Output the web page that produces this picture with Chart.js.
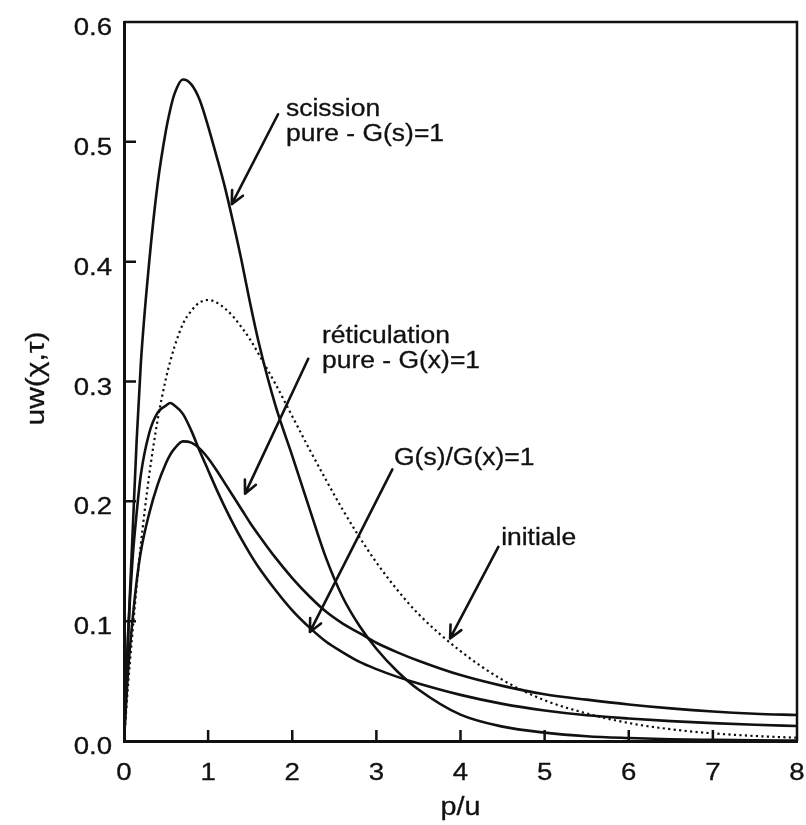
<!DOCTYPE html>
<html>
<head>
<meta charset="utf-8">
<script src="https://cdn.jsdelivr.net/npm/chart.js@4/dist/chart.umd.min.js"></script>
<style>
  html, body { margin: 0; padding: 0; background: #fff; }
  canvas { display: block; }
</style>
</head>
<body>
<canvas id="c" width="806" height="825"></canvas>
<script>
// Reduced chain length p/u at which every curve is sampled
const pOverU = [0, 0.05, 0.1, 0.15, 0.2, 0.3, 0.4, 0.5, 0.55, 0.6, 0.7, 0.8, 0.9, 1.0, 1.1, 1.2, 1.3, 1.4, 1.5, 1.6,
                1.8, 2.0, 2.2, 2.4, 2.6, 2.8, 3.0, 3.25, 3.5, 4.0, 4.5, 5.0, 5.5, 6.0, 6.5, 7.0, 7.5, 8.0];

// Weight distributions uw(chi, tau)
const scissionPure = [0, 0.09, 0.17, 0.25, 0.315, 0.40, 0.465, 0.51, 0.527, 0.54, 0.552, 0.548, 0.535, 0.513, 0.488, 0.462, 0.432, 0.40, 0.365, 0.333,
                      0.28, 0.238, 0.195, 0.153, 0.12, 0.096, 0.077, 0.058, 0.043, 0.022, 0.012, 0.007, 0.004, 0.0025, 0.0015, 0.001, 0.0006, 0.0004];
const reticulationPure = [0, 0.06, 0.10, 0.133, 0.158, 0.19, 0.214, 0.232, 0.239, 0.244, 0.25, 0.249, 0.244, 0.236, 0.226, 0.215, 0.204, 0.193, 0.182, 0.172,
                          0.153, 0.136, 0.121, 0.108, 0.098, 0.09, 0.082, 0.074, 0.067, 0.055, 0.046, 0.039, 0.0345, 0.0305, 0.0272, 0.0246, 0.0228, 0.0217];
const ratioOne = [0, 0.09, 0.15, 0.19, 0.222, 0.257, 0.274, 0.280, 0.282, 0.280, 0.273, 0.259, 0.242, 0.226, 0.21, 0.195, 0.181, 0.168, 0.156, 0.145,
                  0.126, 0.109, 0.095, 0.083, 0.074, 0.066, 0.06, 0.0535, 0.048, 0.0385, 0.031, 0.0255, 0.0215, 0.0188, 0.0166, 0.0149, 0.0136, 0.0125];
const initiale = [0, 0.048, 0.09, 0.129, 0.164, 0.222, 0.268, 0.303, 0.317, 0.329, 0.348, 0.359, 0.366, 0.368, 0.366, 0.361, 0.354, 0.345, 0.335, 0.323,
                  0.298, 0.271, 0.244, 0.218, 0.193, 0.170, 0.149, 0.126, 0.106, 0.075, 0.051, 0.034, 0.023, 0.015, 0.0098, 0.0064, 0.0042, 0.0027];

// Axis tick labels
const xTickLabels = ['0', '1', '2', '3', '4', '5', '6', '7', '8'];
const yTickLabels = ['0.0', '0.1', '0.2', '0.3', '0.4', '0.5', '0.6'];

// Curve labels with their leader arrows, in data units
const notes = [
  { lines: ['scission', 'pure - G(s)=1'], at: [1.926, 0.5217], from: [1.831, 0.523], to: [1.281, 0.448] },
  { lines: ['réticulation', 'pure - G(x)=1'], at: [2.354, 0.3325], from: [2.19, 0.319], to: [1.439, 0.2064] },
  { lines: ['G(s)/G(x)=1'], at: [3.21, 0.2305], from: [3.19, 0.2267], to: [2.21, 0.091] },
  { lines: ['initiale'], at: [4.483, 0.1633], from: [4.45, 0.162], to: [3.876, 0.0856] }
];

const FONT = '"Liberation Sans", Arial, Helvetica, sans-serif';
const STRETCH = 1.15;

function series(values) {
  return pOverU.map((p, i) => ({ x: p, y: values[i] }));
}

function text(ctx, str, x, y, size, align) {
  ctx.save();
  ctx.translate(x, y);
  ctx.scale(STRETCH, 1);
  ctx.font = size + 'px ' + FONT;
  ctx.textAlign = align || 'left';
  ctx.textBaseline = 'alphabetic';
  ctx.fillStyle = '#111';
  ctx.strokeStyle = '#111';
  ctx.lineWidth = 0.3;
  ctx.fillText(str, 0, 0);
  ctx.strokeText(str, 0, 0);
  ctx.restore();
}

function arrow(ctx, x1, y1, x2, y2) {
  const a = Math.atan2(y2 - y1, x2 - x1);
  const len = 14, spread = 0.45;
  ctx.save();
  ctx.strokeStyle = '#111';
  ctx.lineWidth = 2.6;
  ctx.lineCap = 'round';
  ctx.lineJoin = 'round';
  ctx.beginPath();
  ctx.moveTo(x1, y1);
  ctx.lineTo(x2, y2);
  ctx.moveTo(x2 - len * Math.cos(a - spread), y2 - len * Math.sin(a - spread));
  ctx.lineTo(x2, y2);
  ctx.lineTo(x2 - len * Math.cos(a + spread), y2 - len * Math.sin(a + spread));
  ctx.stroke();
  ctx.restore();
}

const decorations = {
  id: 'decorations',
  afterDraw(chart) {
    const ctx = chart.ctx;
    const area = chart.chartArea;
    const xs = chart.scales.x, ys = chart.scales.y;

    // Closing frame on top and right
    ctx.save();
    ctx.strokeStyle = '#111';
    ctx.lineWidth = 2.5;
    ctx.beginPath();
    ctx.moveTo(area.left, area.top);
    ctx.lineTo(area.right, area.top);
    ctx.lineTo(area.right, area.bottom);
    ctx.stroke();

    // Inward tick marks
    ctx.lineWidth = 2.5;
    ctx.beginPath();
    xTickLabels.forEach(l => {
      const v = Number(l);
      if (v <= xs.min || v >= xs.max) return;
      const px = xs.getPixelForValue(v);
      ctx.moveTo(px, area.bottom);
      ctx.lineTo(px, area.bottom - 11);
    });
    yTickLabels.forEach(l => {
      const v = Number(l);
      if (v <= ys.min || v >= ys.max) return;
      const py = ys.getPixelForValue(v);
      ctx.moveTo(area.left, py);
      ctx.lineTo(area.left + 12, py);
    });
    ctx.stroke();
    ctx.restore();

    // Tick labels
    xTickLabels.forEach(l => {
      text(ctx, l, xs.getPixelForValue(Number(l)), area.bottom + 39, 24, 'center');
    });
    yTickLabels.forEach(l => {
      text(ctx, l, area.left - 12, ys.getPixelForValue(Number(l)) + 13, 24, 'right');
    });

    // Axis titles
    text(ctx, 'p/u', (area.left + area.right) / 2, area.bottom + 74, 25, 'center');
    ctx.save();
    ctx.translate(44, (area.top + area.bottom) / 2 - 3);
    ctx.rotate(-Math.PI / 2);
    text(ctx, 'uw(χ,τ)', 0, 0, 26, 'center');
    ctx.restore();

    // Curve labels and arrows
    notes.forEach(n => {
      const tx = xs.getPixelForValue(n.at[0]);
      const ty = ys.getPixelForValue(n.at[1]);
      n.lines.forEach((s, i) => text(ctx, s, tx, ty + i * 25.5, 23, 'left'));
      arrow(ctx,
        xs.getPixelForValue(n.from[0]), ys.getPixelForValue(n.from[1]),
        xs.getPixelForValue(n.to[0]), ys.getPixelForValue(n.to[1]));
    });
  }
};

const solid = { borderColor: '#111', borderWidth: 2.6, pointRadius: 0, showLine: true,
                cubicInterpolationMode: 'monotone', fill: false };

new Chart(document.getElementById('c'), {
  type: 'scatter',
  data: {
    datasets: [
      Object.assign({ label: 'scission pure - G(s)=1', data: series(scissionPure) }, solid),
      Object.assign({ label: 'réticulation pure - G(x)=1', data: series(reticulationPure) }, solid),
      Object.assign({ label: 'G(s)/G(x)=1', data: series(ratioOne) }, solid),
      Object.assign({ label: 'initiale', data: series(initiale) }, solid,
                    { borderWidth: 2.2, borderDash: [2.2, 3.3], borderCapStyle: 'butt' })
    ]
  },
  options: {
    responsive: false,
    devicePixelRatio: 1,
    animation: false,
    layout: { padding: { left: 124, right: 9, top: 22, bottom: 84 } },
    plugins: { legend: { display: false }, tooltip: { enabled: false } },
    scales: {
      x: {
        type: 'linear', min: 0, max: 8,
        ticks: { display: false, stepSize: 1 },
        grid: { display: false, drawTicks: false },
        border: { display: true, width: 3, color: '#111' }
      },
      y: {
        type: 'linear', min: 0, max: 0.6,
        ticks: { display: false, stepSize: 0.1 },
        grid: { display: false, drawTicks: false },
        border: { display: true, width: 3, color: '#111' }
      }
    }
  },
  plugins: [decorations]
});
</script>
</body>
</html>
